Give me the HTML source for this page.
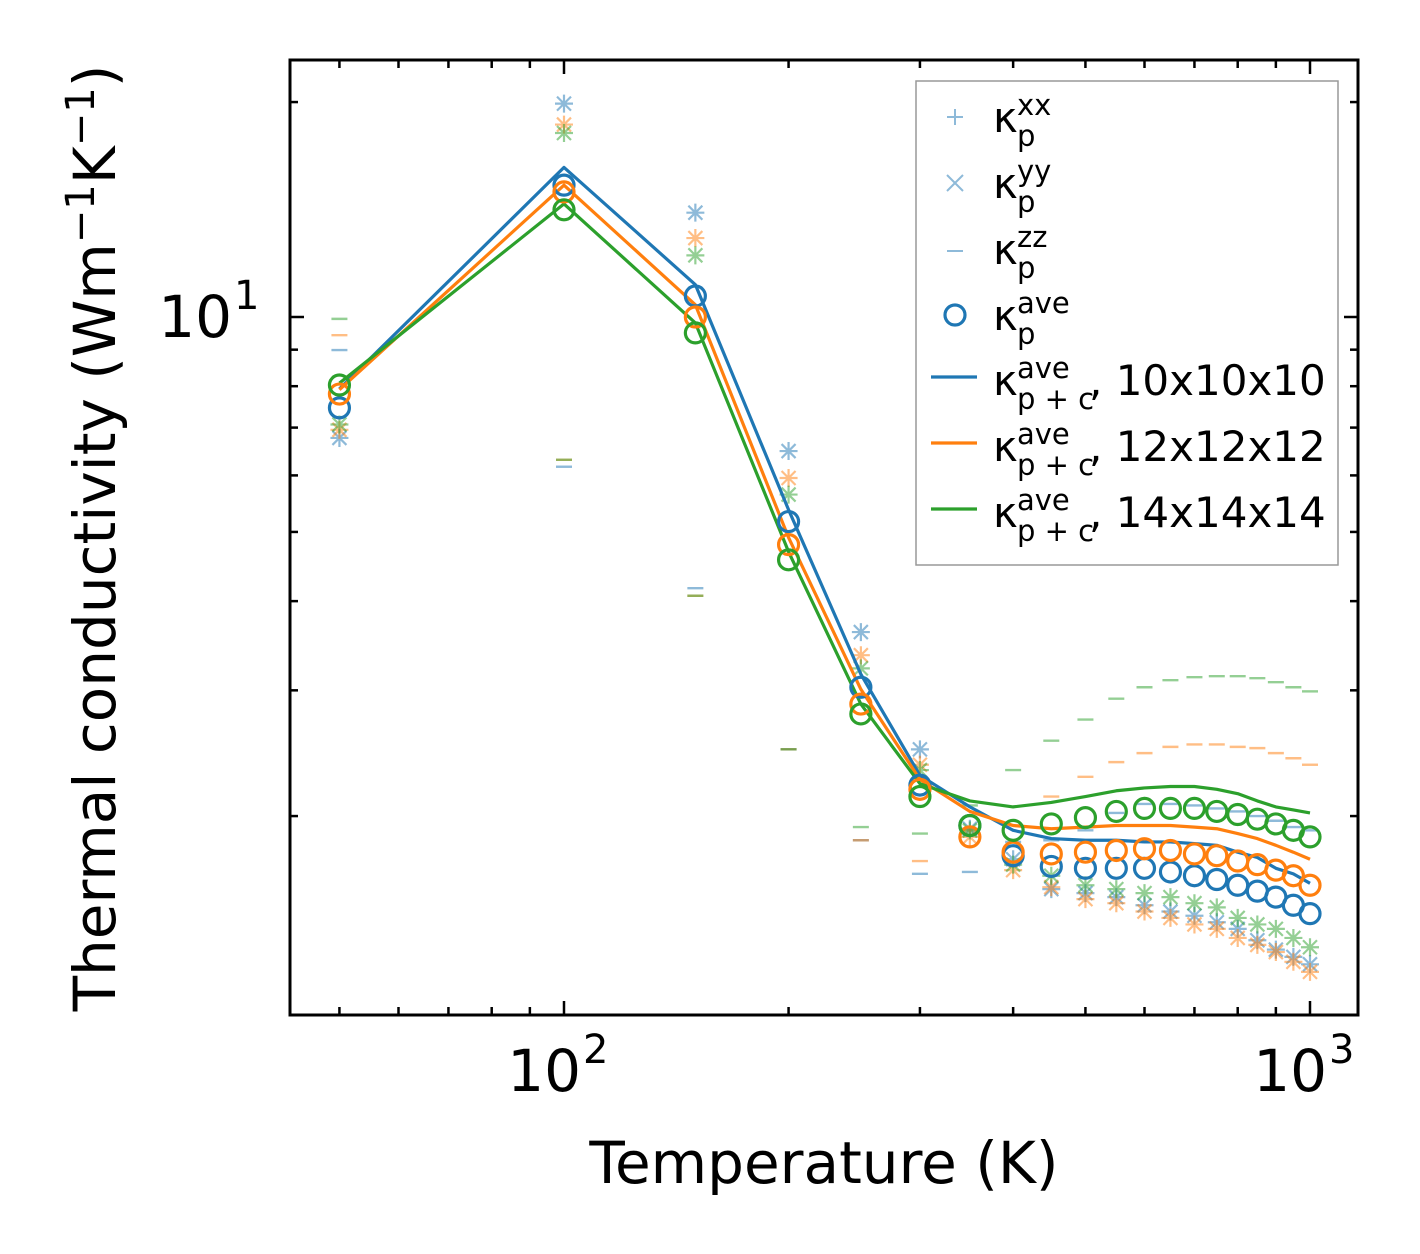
<!DOCTYPE html>
<html><head><meta charset="utf-8"><style>
html,body{margin:0;padding:0;background:#fff;}
svg{display:block;font-family:"DejaVu Sans","Liberation Sans",sans-serif;}
</style></head><body>
<svg id="chart" width="1420" height="1254" viewBox="0 0 1420 1254" xmlns="http://www.w3.org/2000/svg">
<rect width="1420" height="1254" fill="#fff"/>
<g id="marks"></g>
<g id="axes"></g>
</svg>
<script>
const temps=[50,100,150,200,250,300,350,400,450,500,550,600,650,700,750,800,850,900,950,1000];
const aveBlue=[7.46,15.3,10.7,5.17,3.03,2.21,1.94,1.76,1.70,1.69,1.69,1.69,1.67,1.65,1.63,1.60,1.57,1.54,1.50,1.46];
const aveOrange=[7.80,14.97,10.0,4.80,2.87,2.18,1.87,1.78,1.77,1.78,1.79,1.80,1.79,1.77,1.76,1.73,1.71,1.68,1.65,1.60];
const aveGreen=[8.03,14.13,9.50,4.57,2.78,2.13,1.94,1.91,1.95,1.99,2.03,2.05,2.05,2.05,2.03,2.01,1.98,1.95,1.91,1.87];
const pcBlue=[7.93,16.2,11.1,5.37,3.16,2.28,2.06,1.91,1.86,1.85,1.85,1.84,1.84,1.83,1.82,1.78,1.75,1.69,1.66,1.61];
const pcOrange=[7.91,15.3,10.4,4.91,3.01,2.25,2.03,1.94,1.92,1.93,1.94,1.94,1.94,1.93,1.92,1.89,1.86,1.82,1.78,1.74];
const pcGreen=[8.08,14.4,9.81,4.69,2.87,2.22,2.10,2.06,2.09,2.13,2.17,2.19,2.20,2.20,2.18,2.15,2.10,2.06,2.04,2.02];
const xyBlue=[6.77,19.9,14.0,6.49,3.62,2.48,1.92,1.74,1.58,1.56,1.54,1.50,1.47,1.45,1.42,1.39,1.34,1.30,1.27,1.24];
const xyOrange=[6.95,18.6,12.9,5.95,3.36,2.36,1.87,1.68,1.59,1.53,1.51,1.47,1.44,1.41,1.39,1.35,1.32,1.29,1.25,1.21];
const xyGreen=[7.07,18.1,12.2,5.64,3.22,2.32,1.91,1.71,1.65,1.60,1.58,1.56,1.54,1.51,1.49,1.44,1.41,1.39,1.35,1.31];
const zzBlue=[8.99,6.17,4.17,2.48,1.85,1.66,1.67,1.84,1.85,1.91,2.02,2.08,2.08,2.07,2.05,2.03,2.00,1.97,1.93,1.91];
const zzOrange=[9.43,6.31,4.07,2.48,1.85,1.73,1.91,1.94,2.13,2.27,2.38,2.45,2.50,2.52,2.52,2.50,2.49,2.45,2.41,2.36];
const zzGreen=[9.94,6.31,4.07,2.48,1.93,1.89,2.07,2.32,2.55,2.73,2.92,3.03,3.10,3.13,3.14,3.14,3.12,3.08,3.03,2.99];
const xMajor=[100,1000];
const xMinor=[50,60,70,80,90,200,300,400,500,600,700,800,900];
const yMajor=[10];
const yMinor=[2,3,4,5,6,7,8,9,20];

const L=290,R=1358,T=60,B=1015;
function X(v){return 564+746*Math.log10(v/100);}
function Y(v){return 317-714*Math.log10(v/10);}
const NS='http://www.w3.org/2000/svg';
const marks=document.getElementById('marks');
const axes=document.getElementById('axes');
function mk(tag,attrs,parent){const e=document.createElementNS(NS,tag);for(const k in attrs)e.setAttribute(k,attrs[k]);(parent||marks).appendChild(e);return e;}
const C={b:'#1f77b4',o:'#ff7f0e',g:'#2ca02c'};

const defs=mk('defs',{});
const cp=mk('clipPath',{id:'clip'},defs);
mk('rect',{x:L,y:T,width:R-L,height:B-T},cp);
marks.setAttribute('clip-path','url(#clip)');

function star(x,y,col,name){
  const g=mk('g',{stroke:col,'stroke-width':2.2,opacity:0.5});
  
  
  mk('path',{d:`M${x-9} ${y}H${x+9}M${x} ${y-9}V${y+9}M${x-7} ${y-7}L${x+7} ${y+7}M${x-7} ${y+7}L${x+7} ${y-7}`},g);
}
function dash(x,y,col,name){
  const e=mk('line',{x1:x-8,x2:x+8,y1:y,y2:y,stroke:col,'stroke-width':2.4,opacity:0.5});
  
  
}
const sets=[
 {c:C.b,xy:xyBlue,zz:zzBlue,ave:aveBlue,pc:pcBlue,n:'10x10x10'},
 {c:C.o,xy:xyOrange,zz:zzOrange,ave:aveOrange,pc:pcOrange,n:'12x12x12'},
 {c:C.g,xy:xyGreen,zz:zzGreen,ave:aveGreen,pc:pcGreen,n:'14x14x14'}];
sets.forEach(s=>{
  temps.forEach((t,i)=>{star(X(t),Y(s.xy[i]),s.c,'kappa-xx-yy-marker-'+s.n);});
  temps.forEach((t,i)=>{dash(X(t),Y(s.zz[i]),s.c,'kappa-zz-marker-'+s.n);});
});
sets.forEach(s=>{
  const p=mk('polyline',{points:temps.map((t,i)=>X(t)+','+Y(s.pc[i])).join(' '),fill:'none',stroke:s.c,'stroke-width':3.2,'stroke-linejoin':'round'});
  
  
});
sets.forEach(s=>{
  temps.forEach((t,i)=>{
    const c=mk('circle',{cx:X(t),cy:Y(s.ave[i]),r:10,fill:'none',stroke:s.c,'stroke-width':3.2});
    
    
  });
});

const fr=mk('rect',{x:L,y:T,width:R-L,height:B-T,fill:'none',stroke:'#000','stroke-width':3},axes);


function tick(x1,y1,x2,y2,name){const e=mk('line',{x1,y1,x2,y2,stroke:'#000','stroke-width':2.5},axes);}
xMajor.forEach(v=>{const x=X(v);tick(x,B,x,B-14,'x-major-tick');tick(x,T,x,T+14,'x-major-tick-top');});
xMinor.forEach(v=>{const x=X(v);tick(x,B,x,B-8,'x-minor-tick');tick(x,T,x,T+8,'x-minor-tick-top');});
yMajor.forEach(v=>{const y=Y(v);tick(L,y,L+14,y,'y-major-tick');tick(R,y,R-14,y,'y-major-tick-right');});
yMinor.forEach(v=>{const y=Y(v);tick(L,y,L+8,y,'y-minor-tick');tick(R,y,R-8,y,'y-minor-tick-right');});
function txt(x,y,s,size,anchor,name,parent){const e=mk('text',{x,y,'font-size':size,'text-anchor':anchor||'start',fill:'#000'},parent||axes);e.textContent=s;return e;}
xMajor.forEach(v=>{const x=X(v);const e=Math.round(Math.log10(v));txt(x+17,1091,'10',58,'end','x-tick-label');txt(x+19,1063,String(e),40,'start','x-tick-label-exponent');});
yMajor.forEach(v=>{const y=Y(v);const e=Math.round(Math.log10(v));txt(232,y+20,'10',58,'end','y-tick-label');txt(234,y-8,String(e),40,'start','y-tick-label-exponent');});
txt(824,1183,'Temperature (K)',58,'middle','x-axis-title');
const yl=mk('text',{x:0,y:0,'font-size':58,'text-anchor':'middle',transform:'translate(115,538) rotate(-90)'},axes);


yl.innerHTML='Thermal conductivity (Wm<tspan dy="-21" font-size="40">−1</tspan><tspan dy="21">K</tspan><tspan dy="-21" font-size="40">−1</tspan><tspan dy="21">)</tspan>';

const lg=mk('g',{},axes);


mk('rect',{x:916,y:81,width:422,height:484,fill:'#fff',stroke:'#999','stroke-width':1.5},lg);
const rows=[['xx',''],['yy',''],['zz',''],['ave',''],['ave',', 10x10x10'],['ave',', 12x12x12'],['ave',', 14x14x14']];
const base=[132,198,264,330,395,461,527];
rows.forEach((r,i)=>{
  const y=base[i],mx=955,my=y-15;
  const g=mk('g',{},lg);
  
  
  if(i===0)mk('path',{d:`M${mx-8} ${my}H${mx+8}M${mx} ${my-8}V${my+8}`,stroke:C.b,'stroke-width':2,opacity:0.5},g);
  if(i===1)mk('path',{d:`M${mx-8} ${my-8}L${mx+8} ${my+8}M${mx-8} ${my+8}L${mx+8} ${my-8}`,stroke:C.b,'stroke-width':2,opacity:0.5},g);
  if(i===2)mk('line',{x1:mx-8,x2:mx+8,y1:my+2,y2:my+2,stroke:C.b,'stroke-width':2,opacity:0.5},g);
  if(i===3)mk('circle',{cx:mx,cy:my,r:10,fill:'none',stroke:C.b,'stroke-width':3.2},g);
  if(i>=4)mk('line',{x1:931,x2:977,y1:my-3,y2:my-3,stroke:[C.b,C.o,C.g][i-4],'stroke-width':3.2},g);
  txt(993,y,'κ',42,'start','legend-kappa',g);
  txt(1017,y-17,r[0],29,'start','legend-superscript',g);
  txt(1017,y+14,i>=4?'p + c':'p',29,'start','legend-subscript',g);
  if(r[1])txt(1089,y,r[1],42,'start','legend-label',g);
});
</script>
</body></html>
